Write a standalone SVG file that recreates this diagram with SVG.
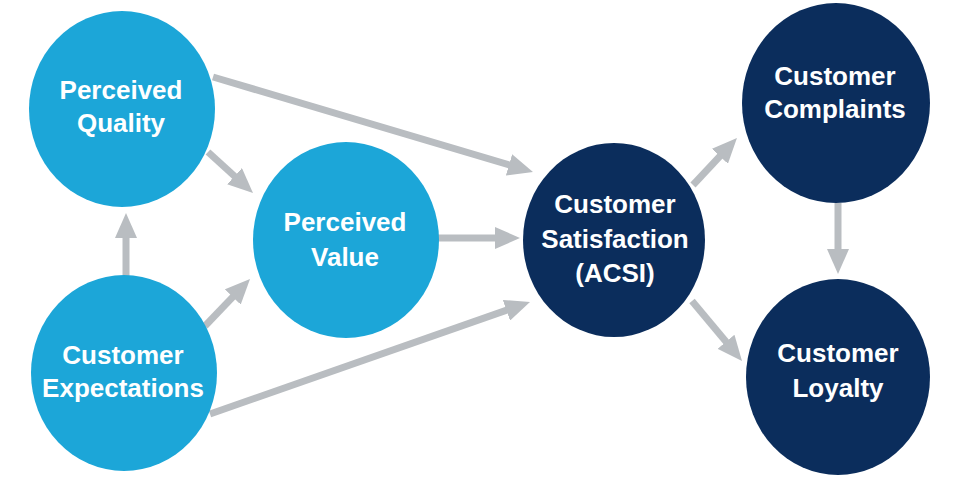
<svg xmlns="http://www.w3.org/2000/svg" width="980" height="494" viewBox="0 0 980 494">
  <defs>
    <style>
      .light { fill: #1ca6d8; }
      .dark { fill: #0b2d5c; }
      .conn { stroke: #b9bdc1; stroke-width: 7; fill: none; }
      .lbl { font-family: "Liberation Sans", Arial, sans-serif; font-size: 26px; font-weight: bold; fill: #ffffff; text-anchor: middle; }
    </style>
    <marker id="arrow" markerUnits="userSpaceOnUse" markerWidth="25" markerHeight="22" refX="5" refY="11" orient="auto">
      <path d="M0,0 L25,11 L0,22 z" fill="#b9bdc1"/>
    </marker>
  </defs>
  <rect width="980" height="494" fill="#ffffff"/>
  <g id="connectors">
    <path class="conn" d="M213,77 L513.8,166.3" marker-end="url(#arrow)"/>
    <path class="conn" d="M208,152 L238.2,179.5" marker-end="url(#arrow)"/>
    <path class="conn" d="M126,276 L126,233" marker-end="url(#arrow)"/>
    <path class="conn" d="M205,326 L236.2,293.4" marker-end="url(#arrow)"/>
    <path class="conn" d="M210,414 L511.1,308.6" marker-end="url(#arrow)"/>
    <path class="conn" d="M438,238 L500,238" marker-end="url(#arrow)"/>
    <path class="conn" d="M693,185 L723.3,152.6" marker-end="url(#arrow)"/>
    <path class="conn" d="M692,301 L729.2,345.6" marker-end="url(#arrow)"/>
    <path class="conn" d="M838,203 L838,254" marker-end="url(#arrow)"/>
  </g>
  <g id="perceived-quality">
    <ellipse class="light" cx="122" cy="109" rx="93" ry="98"/>
    <text class="lbl" x="121" y="99">Perceived</text>
    <text class="lbl" x="121" y="132">Quality</text>
  </g>
  <g id="perceived-value">
    <ellipse class="light" cx="346" cy="240" rx="93" ry="98"/>
    <text class="lbl" x="345" y="231">Perceived</text>
    <text class="lbl" x="345" y="266">Value</text>
  </g>
  <g id="customer-expectations">
    <ellipse class="light" cx="124" cy="373" rx="93" ry="98"/>
    <text class="lbl" x="123" y="364">Customer</text>
    <text class="lbl" x="123" y="397">Expectations</text>
  </g>
  <g id="customer-satisfaction">
    <ellipse class="dark" cx="614" cy="240" rx="91" ry="97"/>
    <text class="lbl" x="615" y="213">Customer</text>
    <text class="lbl" x="615" y="248">Satisfaction</text>
    <text class="lbl" x="615" y="282">(ACSI)</text>
  </g>
  <g id="customer-complaints">
    <ellipse class="dark" cx="836" cy="103" rx="94" ry="100"/>
    <text class="lbl" x="835" y="85">Customer</text>
    <text class="lbl" x="835" y="118">Complaints</text>
  </g>
  <g id="customer-loyalty">
    <ellipse class="dark" cx="838" cy="377" rx="92" ry="98"/>
    <text class="lbl" x="838" y="362">Customer</text>
    <text class="lbl" x="838" y="397">Loyalty</text>
  </g>
</svg>
